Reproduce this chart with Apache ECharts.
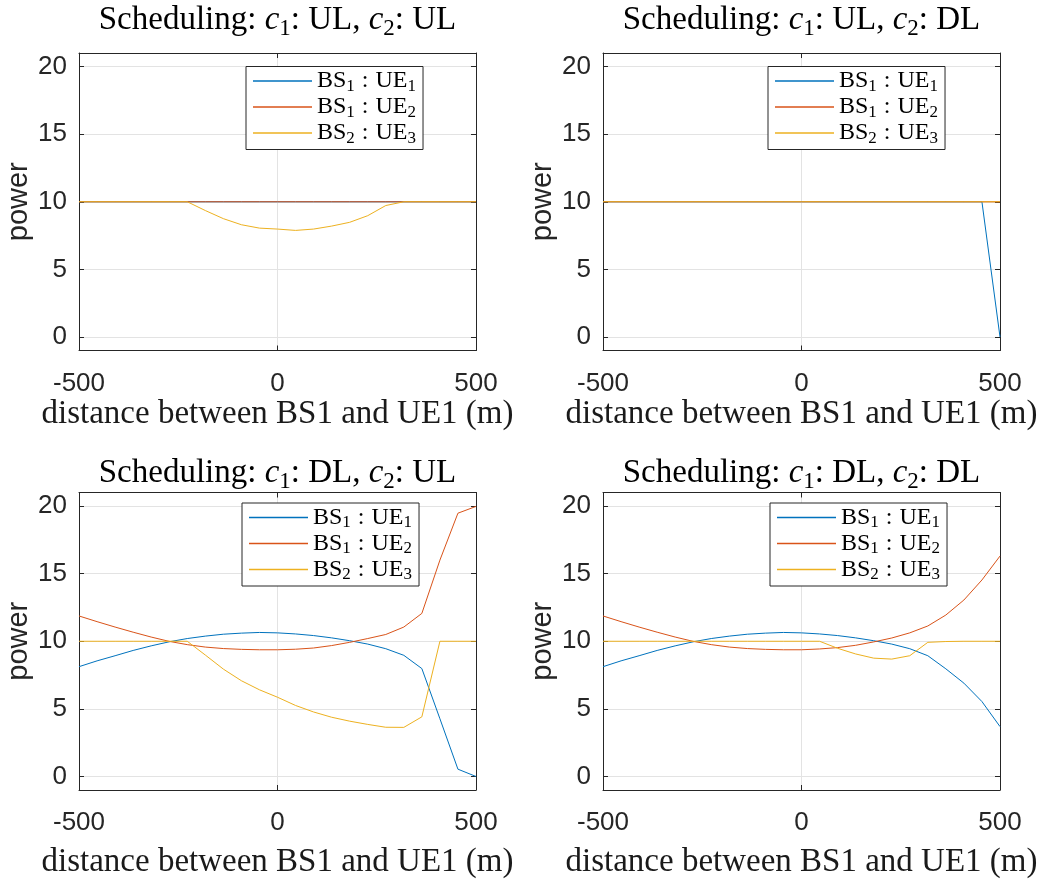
<!DOCTYPE html>
<html><head><meta charset="utf-8">
<script src="https://cdn.jsdelivr.net/npm/echarts@6/dist/echarts.min.js"></script>
<style>html,body{margin:0;padding:0;background:#fff}#c{width:1055px;height:880px}</style>
</head><body><div id="c"></div>
<script>
// x positions (m): 23 equally spaced samples between -500 and 500
const xs = [-500, -454.5, -409.1, -363.6, -318.2, -272.7, -227.3, -181.8, -136.4, -90.9, -45.5, 0,
            45.5, 90.9, 136.4, 181.8, 227.3, 272.7, 318.2, 363.6, 409.1, 454.5, 500];
const xTicks = [-500, 0, 500];
const yTicks = [0, 5, 10, 15, 20];
const seriesNames = ['BS1 : UE1', 'BS1 : UE2', 'BS2 : UE3'];
const c1Modes = ['UL', 'UL', 'DL', 'DL'];
const c2Modes = ['UL', 'DL', 'UL', 'DL'];

// Panel 1: c1 UL, c2 UL
const p1_ue1 = [10,10,10,10,10,10,10,10,10,10,10,10,10,10,10,10,10,10,10,10,10,10,10];
const p1_ue2 = [10,10,10,10,10,10,10,10,10,10,10,10,10,10,10,10,10,10,10,10,10,10,10];
const p1_ue3 = [10,10,10,10,10,10,10,9.35,8.75,8.3,8.05,7.98,7.88,7.98,8.2,8.48,8.97,9.72,10,10,10,10,10];
// Panel 2: c1 UL, c2 DL
const p2_ue1 = [10,10,10,10,10,10,10,10,10,10,10,10,10,10,10,10,10,10,10,10,10,10,0];
const p2_ue2 = [10,10,10,10,10,10,10,10,10,10,10,10,10,10,10,10,10,10,10,10,10,10,10];
const p2_ue3 = [10,10,10,10,10,10,10,10,10,10,10,10,10,10,10,10,10,10,10,10,10,10,10];
// Panel 3: c1 DL, c2 UL
const p3_ue1 = [8.12,8.55,8.93,9.32,9.66,9.96,10.2,10.38,10.52,10.6,10.65,10.62,10.54,10.42,10.25,10.04,9.79,9.45,8.96,7.98,4.27,0.54,0];
const p3_ue2 = [11.87,11.45,11.05,10.67,10.31,9.99,9.75,9.57,9.46,9.4,9.37,9.37,9.41,9.5,9.68,9.92,10.2,10.5,11.05,12.06,16.0,19.47,19.97];
const p3_ue3 = [10,10,10,10,10,10,10,8.98,7.94,7.08,6.41,5.86,5.25,4.77,4.38,4.09,3.85,3.64,3.63,4.41,10,10,10];
// Panel 4: c1 DL, c2 DL
const p4_ue1 = [8.12,8.55,8.93,9.32,9.66,9.96,10.2,10.38,10.52,10.6,10.65,10.62,10.54,10.42,10.25,10.04,9.79,9.45,8.93,7.96,6.9,5.54,3.69];
const p4_ue2 = [11.87,11.45,11.05,10.67,10.31,9.99,9.75,9.57,9.46,9.4,9.37,9.37,9.43,9.53,9.7,9.95,10.24,10.62,11.13,11.94,13.05,14.53,16.3];
const p4_ue3 = [10,10,10,10,10,10,10,10,10,10,10,10,10,9.48,9.06,8.75,8.68,8.93,9.92,9.98,10,10,10];

const panelData = [
  [p1_ue1, p1_ue2, p1_ue3],
  [p2_ue1, p2_ue2, p2_ue3],
  [p3_ue1, p3_ue2, p3_ue3],
  [p4_ue1, p4_ue2, p4_ue3]
];

const COLORS = ['#0072BD', '#D95319', '#EDB120'];
const AX = '#262626';
const GRIDC = '#e3e3e3';
const SERIF = 'Liberation Serif';
const SANS = 'Liberation Sans';

const layout = [
  {left: 79,  top: 53,    legL: 246, legT: 66.5, titleTop: 0,   nameGap: 43},
  {left: 603, top: 53,    legL: 768, legT: 66.5, titleTop: 0,   nameGap: 43},
  {left: 79,  top: 492.5, legL: 242, legT: 503,  titleTop: 453, nameGap: 56},
  {left: 603, top: 492.5, legL: 770, legT: 503,  titleTop: 453, nameGap: 56}
];
const GW = 397, GH = 297.5;

const grids = [], xAxes = [], yAxes = [], series = [], titles = [], legends = [];

layout.forEach((L, i) => {
  grids.push({left: L.left, top: L.top, width: GW, height: GH, outerBoundsMode: 'none', containLabel: false});
  const baseTick = {show: true, inside: true, length: 5, lineStyle: {color: AX, width: 1}};
  const baseLine = {show: true, onZero: false, lineStyle: {color: AX, width: 1}};
  xAxes.push({
    type: 'value', gridIndex: i, position: 'bottom', min: xTicks[0], max: xTicks[xTicks.length - 1], interval: 500,
    axisLine: baseLine, axisTick: baseTick,
    axisLabel: {fontFamily: SANS, fontSize: 26, color: AX, margin: 20},
    splitLine: {show: true, showMinLine: false, showMaxLine: false, lineStyle: {color: GRIDC, width: 1}},
    name: 'distance between BS1 and UE1 (m)', nameLocation: 'middle', nameGap: L.nameGap,
    nameTextStyle: {fontFamily: SERIF, fontSize: 33, color: '#1a1a1a', fontWeight: 'normal'}
  });
  xAxes.push({
    type: 'value', gridIndex: i, position: 'top', min: xTicks[0], max: xTicks[xTicks.length - 1], interval: 500,
    axisLine: baseLine, axisTick: baseTick, axisLabel: {show: false}, splitLine: {show: false}
  });
  yAxes.push({
    type: 'value', gridIndex: i, position: 'left', min: -1, max: 21, minInterval: 5, maxInterval: 5,
    axisLine: baseLine, axisTick: baseTick,
    axisLabel: {fontFamily: SANS, fontSize: 26, color: AX, margin: 12, showMinLabel: false, showMaxLabel: false,
      formatter: v => (yTicks.indexOf(v) >= 0 ? String(v) : '')},
    splitLine: {show: true, showMinLine: false, showMaxLine: false, lineStyle: {color: GRIDC, width: 1}},
    name: 'power', nameLocation: 'middle', nameGap: 46,
    nameTextStyle: {fontFamily: SANS, fontSize: 29, color: AX}
  });
  yAxes.push({
    type: 'value', gridIndex: i, position: 'right', min: -1, max: 21, minInterval: 5, maxInterval: 5,
    axisLine: baseLine, axisTick: baseTick, axisLabel: {show: false}, splitLine: {show: false}
  });
  panelData[i].forEach((arr, s) => {
    series.push({
      type: 'line', name: seriesNames[s], xAxisIndex: 2 * i, yAxisIndex: 2 * i,
      data: xs.map((x, j) => [x, arr[j]]),
      symbol: 'none', showSymbol: false, smooth: false,
      lineStyle: {color: COLORS[s], width: 1}, itemStyle: {color: COLORS[s]},
      z: 2 + s, animation: false, silent: true
    });
  });
  const txt = {fontFamily: SERIF, fontWeight: 'normal', color: '#000'};
  titles.push({
    text: '{n|Scheduling: }{i|c}{s|1}{n|: ' + c1Modes[i] + ', }{i|c}{s|2}{n|: ' + c2Modes[i] + '}',
    left: L.left + GW / 2, top: L.titleTop, textAlign: 'center', padding: 0,
    textStyle: {
      fontFamily: SERIF, fontWeight: 'normal', fontSize: 33,
      rich: {
        n: Object.assign({fontSize: 33, lineHeight: 40}, txt),
        i: Object.assign({fontStyle: 'italic', fontSize: 33, lineHeight: 40}, txt),
        s: Object.assign({fontSize: 23, lineHeight: 24, verticalAlign: 'bottom'}, txt)
      }
    }
  });
  legends.push({
    data: seriesNames.map((n, s) => ({name: n, icon: 'rect', itemStyle: {color: COLORS[s], borderWidth: 0}})),
    orient: 'vertical', left: L.legL, top: L.legT,
    itemWidth: 59, itemHeight: 1.3, itemGap: 0, padding: [2.5, 7, 2.5, 7],
    backgroundColor: '#fff', borderColor: AX, borderWidth: 1, borderRadius: 0,
    selectedMode: false,
    formatter: name => {
      const m = name.match(/BS(\d) : UE(\d)/);
      return '{n|BS}{s|' + m[1] + '}{c|:}{n|UE}{s|' + m[2] + '}';
    },
    textStyle: {
      rich: {
        n: Object.assign({fontSize: 24, lineHeight: 28}, txt),
        c: Object.assign({fontSize: 24, lineHeight: 28, padding: [0, 7, 0, 7]}, txt),
        s: Object.assign({fontSize: 17, lineHeight: 16.6, verticalAlign: 'bottom'}, txt)
      }
    }
  });
});

const chart = echarts.init(document.getElementById('c'), null, {renderer: 'canvas'});
chart.setOption({
  animation: false,
  backgroundColor: '#fff',
  title: titles,
  legend: legends,
  grid: grids,
  xAxis: xAxes,
  yAxis: yAxes,
  series: series
});
</script></body></html>
